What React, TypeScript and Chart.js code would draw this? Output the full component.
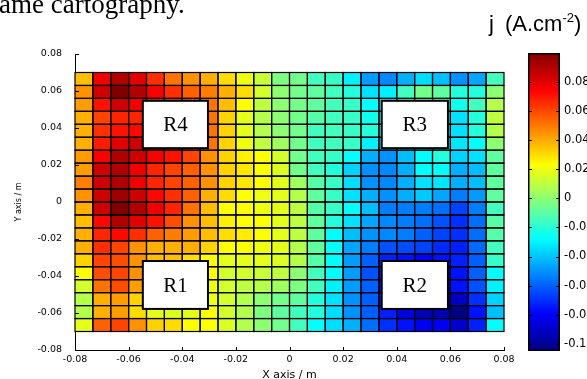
import React, { useEffect, useRef } from 'react';
import { Chart, registerables } from 'chart.js';

Chart.register(...registerables);

// ---- data ----
// x positions of the 24 cell columns (m)
const xCenters = [
  -0.07667, -0.07, -0.06333, -0.05667, -0.05, -0.04333, -0.03667, -0.03,
  -0.02333, -0.01667, -0.01, -0.00333, 0.00333, 0.01, 0.01667, 0.02333,
  0.03, 0.03667, 0.04333, 0.05, 0.05667, 0.06333, 0.07, 0.07667,
];
// row edges from top to bottom (m)
const yEdges = [
  0.07, 0.063, 0.056, 0.049, 0.042, 0.035, 0.028, 0.021, 0.014, 0.007, 0,
  -0.007, -0.014, -0.021, -0.028, -0.035, -0.042, -0.049, -0.056, -0.063, -0.07,
];
// current density j (A.cm-2), one row per y band, top row first
const jRows: number[][] = [
  [0.036, 0.077, 0.090, 0.080, 0.065, 0.051, 0.045, 0.039, 0.030, 0.020, 0.012, -0.003, -0.005, -0.015, -0.017, -0.031, -0.048, -0.052, -0.044, -0.035, -0.041, -0.050, -0.046, -0.015],
  [0.045, 0.084, 0.100, 0.090, 0.075, 0.065, 0.055, 0.049, 0.039, 0.030, 0.014, 0.000, -0.005, -0.009, -0.015, -0.021, -0.034, -0.031, -0.015, -0.005, -0.009, -0.021, -0.021, 0.000],
  [0.043, 0.071, 0.084, 0.077, 0.069, 0.063, 0.057, 0.051, 0.036, 0.023, 0.010, 0.000, -0.005, -0.009, -0.015, -0.017, -0.028, -0.031, -0.023, -0.015, -0.019, -0.025, -0.015, 0.008],
  [0.039, 0.061, 0.067, 0.067, 0.065, 0.061, 0.055, 0.051, 0.032, 0.018, 0.008, 0.000, -0.005, -0.011, -0.015, -0.017, -0.025, -0.029, -0.023, -0.019, -0.023, -0.034, -0.021, 0.010],
  [0.039, 0.065, 0.071, 0.073, 0.067, 0.061, 0.055, 0.051, 0.032, 0.018, 0.008, 0.000, -0.005, -0.015, -0.015, -0.017, -0.021, -0.027, -0.023, -0.021, -0.025, -0.034, -0.021, 0.008],
  [0.039, 0.069, 0.080, 0.084, 0.073, 0.067, 0.059, 0.051, 0.032, 0.020, 0.010, 0.004, -0.005, -0.015, -0.015, -0.017, -0.031, -0.037, -0.031, -0.025, -0.027, -0.033, -0.028, 0.000],
  [0.043, 0.075, 0.090, 0.084, 0.075, 0.071, 0.061, 0.045, 0.032, 0.026, 0.023, 0.014, -0.005, -0.015, -0.017, -0.028, -0.044, -0.050, -0.041, -0.028, -0.021, -0.037, -0.034, -0.009],
  [0.043, 0.084, 0.090, 0.077, 0.067, 0.061, 0.055, 0.045, 0.032, 0.028, 0.023, 0.016, -0.005, -0.015, -0.021, -0.037, -0.050, -0.052, -0.044, -0.028, -0.028, -0.044, -0.041, -0.009],
  [0.049, 0.084, 0.090, 0.077, 0.067, 0.061, 0.055, 0.045, 0.032, 0.028, 0.023, 0.018, 0.004, -0.011, -0.017, -0.035, -0.050, -0.052, -0.044, -0.034, -0.033, -0.044, -0.041, -0.009],
  [0.045, 0.084, 0.094, 0.084, 0.073, 0.065, 0.055, 0.039, 0.030, 0.023, 0.020, 0.018, 0.008, -0.009, -0.017, -0.034, -0.044, -0.050, -0.044, -0.039, -0.046, -0.054, -0.048, -0.009],
  [0.039, 0.084, 0.100, 0.090, 0.077, 0.067, 0.051, 0.036, 0.023, 0.023, 0.020, 0.018, 0.010, -0.011, -0.017, -0.028, -0.041, -0.054, -0.054, -0.054, -0.057, -0.066, -0.054, -0.015],
  [0.036, 0.073, 0.090, 0.080, 0.071, 0.059, 0.045, 0.036, 0.026, 0.023, 0.023, 0.018, 0.010, -0.009, -0.021, -0.034, -0.046, -0.052, -0.054, -0.057, -0.063, -0.070, -0.057, -0.011],
  [0.039, 0.067, 0.073, 0.065, 0.055, 0.049, 0.043, 0.036, 0.030, 0.027, 0.023, 0.018, 0.010, -0.009, -0.028, -0.041, -0.050, -0.052, -0.054, -0.060, -0.066, -0.070, -0.057, -0.011],
  [0.039, 0.065, 0.061, 0.045, 0.039, 0.039, 0.039, 0.032, 0.023, 0.023, 0.020, 0.018, 0.008, -0.009, -0.028, -0.046, -0.054, -0.063, -0.064, -0.066, -0.071, -0.073, -0.058, -0.015],
  [0.032, 0.061, 0.059, 0.045, 0.036, 0.036, 0.030, 0.023, 0.018, 0.018, 0.018, 0.016, 0.008, -0.011, -0.028, -0.048, -0.060, -0.073, -0.076, -0.080, -0.076, -0.073, -0.060, -0.017],
  [0.023, 0.059, 0.061, 0.045, 0.034, 0.030, 0.026, 0.023, 0.014, 0.014, 0.012, 0.010, 0.000, -0.015, -0.028, -0.048, -0.063, -0.074, -0.080, -0.082, -0.080, -0.076, -0.060, -0.028],
  [0.014, 0.051, 0.059, 0.043, 0.032, 0.026, 0.022, 0.020, 0.014, 0.010, 0.008, 0.004, -0.003, -0.015, -0.031, -0.048, -0.060, -0.076, -0.082, -0.087, -0.087, -0.076, -0.063, -0.031],
  [0.008, 0.039, 0.043, 0.032, 0.024, 0.020, 0.020, 0.020, 0.014, 0.008, 0.000, -0.005, -0.009, -0.021, -0.034, -0.050, -0.060, -0.074, -0.082, -0.089, -0.091, -0.091, -0.070, -0.037],
  [0.008, 0.039, 0.043, 0.030, 0.018, 0.016, 0.018, 0.023, 0.014, 0.008, -0.003, -0.009, -0.015, -0.021, -0.035, -0.050, -0.060, -0.073, -0.085, -0.094, -0.095, -0.105, -0.076, -0.041],
  [0.018, 0.055, 0.061, 0.045, 0.032, 0.030, 0.023, 0.023, 0.016, 0.008, 0.000, -0.005, -0.015, -0.028, -0.035, -0.044, -0.057, -0.070, -0.076, -0.082, -0.082, -0.089, -0.073, -0.028],
];
const xTickValues = [-0.08, -0.06, -0.04, -0.02, 0, 0.02, 0.04, 0.06, 0.08];
const yTickValues = [-0.08, -0.06, -0.04, -0.02, 0, 0.02, 0.04, 0.06, 0.08];
const cbTickValues = [-0.1, -0.08, -0.06, -0.04, -0.02, 0, 0.02, 0.04, 0.06, 0.08];
const cbMin = -0.105;
const cbMax = 0.1;
// labelled regions (data units)
const regionNames = ['R1', 'R2', 'R3', 'R4'];
const regionXMin = [-0.0547, 0.0344, 0.0344, -0.0547];
const regionXMax = [-0.0304, 0.0591, 0.0591, -0.0304];
const regionYMin = [-0.0578, -0.0578, 0.0291, 0.0291];
const regionYMax = [-0.0319, -0.0319, 0.0547, 0.0547];

// ---- helpers ----
const clamp01 = (v: number) => Math.max(0, Math.min(1, v));
function jetColor(t: number): string {
  const tt = clamp01(t);
  const r = clamp01(1.5 - Math.abs(4 * tt - 3));
  const g = clamp01(1.5 - Math.abs(4 * tt - 2));
  const b = clamp01(1.5 - Math.abs(4 * tt - 1));
  return `rgb(${Math.round(r * 255)},${Math.round(g * 255)},${Math.round(b * 255)})`;
}
const colorFor = (v: number) => jetColor((v - cbMin) / (cbMax - cbMin));
const jetStops = [0, 0.125, 0.375, 0.625, 0.875, 1];
const fmt = (v: number) => parseFloat(Number(v).toFixed(2)).toString();
const TICK_FONT = { family: '"DejaVu Sans", sans-serif', size: 9.5 };

const mainPlugin = {
  id: 'heatOverlay',
  afterDatasetsDraw(chart: any) {
    const { ctx, scales } = chart;
    const x = scales.x;
    const y = scales.y;
    ctx.save();
    // cell outlines, taken from the drawn bar elements
    ctx.lineWidth = 1.2;
    ctx.strokeStyle = '#000000';
    chart.data.datasets.forEach((_: any, di: number) => {
      const meta = chart.getDatasetMeta(di);
      meta.data.forEach((el: any) => {
        const p = el.getProps(['x', 'y', 'base', 'width'], true);
        ctx.strokeRect(p.x - p.width / 2, Math.min(p.y, p.base), p.width, Math.abs(p.base - p.y));
      });
    });
    regionNames.forEach((name, k) => {
      const l = x.getPixelForValue(regionXMin[k]);
      const r = x.getPixelForValue(regionXMax[k]);
      const t = y.getPixelForValue(regionYMax[k]);
      const b = y.getPixelForValue(regionYMin[k]);
      ctx.fillStyle = '#ffffff';
      ctx.fillRect(l, t, r - l, b - t);
      ctx.lineWidth = 2;
      ctx.strokeStyle = '#000000';
      ctx.strokeRect(l, t, r - l, b - t);
      ctx.fillStyle = '#000000';
      ctx.font = '21px "Liberation Serif", serif';
      ctx.textAlign = 'center';
      ctx.textBaseline = 'alphabetic';
      ctx.fillText(name, (l + r) / 2, (t + b) / 2 + 7);
    });
    ctx.restore();
  },
  afterDraw(chart: any) {
    const { ctx, scales, chartArea } = chart;
    ctx.save();
    ctx.strokeStyle = '#000000';
    ctx.lineWidth = 1;
    ctx.beginPath();
    scales.y.ticks.forEach((tk: any) => {
      const py = Math.round(scales.y.getPixelForValue(tk.value)) + 0.5;
      ctx.moveTo(chartArea.left, py);
      ctx.lineTo(chartArea.left + 4, py);
    });
    scales.x.ticks.forEach((tk: any) => {
      const px = Math.round(scales.x.getPixelForValue(tk.value)) + 0.5;
      ctx.moveTo(px, chartArea.bottom);
      ctx.lineTo(px, chartArea.bottom - 3);
    });
    ctx.stroke();
    ctx.restore();
  },
};

const colorbarPlugin = {
  id: 'colorbar',
  beforeDatasetsDraw(chart: any) {
    const { ctx, chartArea, scales } = chart;
    const y = scales.y;
    const { left, right, top, bottom } = chartArea;
    const g = ctx.createLinearGradient(0, y.getPixelForValue(cbMin), 0, y.getPixelForValue(cbMax));
    jetStops.forEach((t) => g.addColorStop(t, jetColor(t)));
    ctx.save();
    ctx.fillStyle = g;
    ctx.fillRect(left, top, right - left, bottom - top);
    ctx.strokeStyle = '#000000';
    ctx.lineWidth = 1.5;
    ctx.strokeRect(left + 0.75, top + 0.75, right - left - 1.5, bottom - top - 1.5);
    ctx.lineWidth = 1;
    ctx.beginPath();
    y.ticks.forEach((tk: any) => {
      const py = Math.round(y.getPixelForValue(tk.value)) + 0.5;
      ctx.moveTo(left, py);
      ctx.lineTo(left + 4, py);
      ctx.moveTo(right, py);
      ctx.lineTo(right - 4, py);
    });
    ctx.stroke();
    ctx.restore();
  },
};

export default function App() {
  const mainRef = useRef<HTMLCanvasElement | null>(null);
  const cbRef = useRef<HTMLCanvasElement | null>(null);

  useEffect(() => {
    if (!mainRef.current || !cbRef.current) return;
    const datasets = jRows.map((row, j) => ({
      type: 'bar' as const,
      data: row.map((v, i) => ({ x: xCenters[i], y: [yEdges[j + 1], yEdges[j]] })),
      backgroundColor: row.map(colorFor),
      borderWidth: 0,
      borderSkipped: false,
      grouped: false,
      barPercentage: 1,
      categoryPercentage: 1,
      inflateAmount: 0.5,
    }));

    const main = new Chart(mainRef.current, {
      type: 'bar',
      data: { datasets: datasets as any },
      options: {
        responsive: false,
        animation: false,
        events: [],
        layout: { padding: { left: 0, top: 54, right: 83, bottom: 0 } },
        plugins: { legend: { display: false }, tooltip: { enabled: false } },
        scales: {
          x: {
            type: 'linear',
            min: -0.08,
            max: 0.08,
            offset: false,
            afterBuildTicks: (s: any) => { s.ticks = xTickValues.map((value) => ({ value })); },
            afterFit: (s: any) => { s.height = 29; },
            grid: { display: false, drawTicks: false },
            border: { display: true, color: '#000000', width: 1 },
            ticks: { font: TICK_FONT, color: '#000000', padding: 4, maxRotation: 0, autoSkip: false, callback: (v: any) => fmt(v) },
            title: {
              display: true,
              text: 'X axis / m',
              color: '#000000',
              font: { family: '"DejaVu Sans", sans-serif', size: 11, lineHeight: 1 },
              padding: { top: 0, bottom: -1.5 },
            },
          },
          y: {
            type: 'linear',
            min: -0.08,
            max: 0.08,
            afterBuildTicks: (s: any) => { s.ticks = yTickValues.map((value) => ({ value })); },
            afterFit: (s: any) => { s.width = 75; },
            grid: { display: false, drawTicks: false },
            border: { display: true, color: '#000000', width: 1 },
            ticks: { font: TICK_FONT, color: '#000000', padding: 13, autoSkip: false, callback: (v: any) => fmt(v) },
            title: {
              display: true,
              text: 'Y axis / m',
              color: '#000000',
              font: { family: '"DejaVu Sans", sans-serif', size: 8, lineHeight: 1 },
              padding: { top: 14.5, bottom: 0 },
            },
          },
        },
      },
      plugins: [mainPlugin],
    } as any);

    const cb = new Chart(cbRef.current, {
      type: 'bar',
      data: { labels: [], datasets: [] },
      options: {
        responsive: false,
        animation: false,
        events: [],
        layout: { padding: { left: 23, top: 53, right: 0, bottom: 28 } },
        plugins: { legend: { display: false }, tooltip: { enabled: false } },
        scales: {
          x: { display: false },
          y: {
            type: 'linear',
            position: 'right',
            min: cbMin,
            max: cbMax,
            afterBuildTicks: (s: any) => { s.ticks = cbTickValues.map((value) => ({ value })); },
            afterFit: (s: any) => { s.width = 27; },
            grid: { display: false, drawTicks: false },
            border: { display: false },
            ticks: {
              font: { family: '"DejaVu Sans", sans-serif', size: 11.5 },
              color: '#000000',
              padding: 4,
              autoSkip: false,
              callback: (v: any) => fmt(v),
            },
          },
        },
      },
      plugins: [colorbarPlugin],
    } as any);

    return () => {
      main.destroy();
      cb.destroy();
    };
  }, []);

  return (
    <div style={{ position: 'fixed', left: 0, top: 0, width: 587, height: 379, overflow: 'hidden', background: '#ffffff' }}>
      <canvas ref={mainRef} width={587} height={379} style={{ position: 'absolute', left: 0, top: 0, display: 'block' }} />
      <canvas ref={cbRef} width={82} height={379} style={{ position: 'absolute', left: 505, top: 0, display: 'block' }} />
      <div
        style={{
          position: 'absolute', left: -1, top: -9, fontFamily: '"Liberation Serif", serif', fontSize: 27,
          lineHeight: '27px', color: '#000', whiteSpace: 'nowrap',
        }}
      >
        ame cartography.
      </div>
      <div
        style={{
          position: 'absolute', left: 489, top: 12, fontFamily: '"Liberation Sans", Arial, sans-serif', fontSize: 22,
          lineHeight: '24px', color: '#000', whiteSpace: 'nowrap', wordSpacing: 5,
        }}
      >
        j (A.cm<span style={{ fontSize: 13, position: 'relative', top: -9 }}>-2</span>)
      </div>
    </div>
  );
}
